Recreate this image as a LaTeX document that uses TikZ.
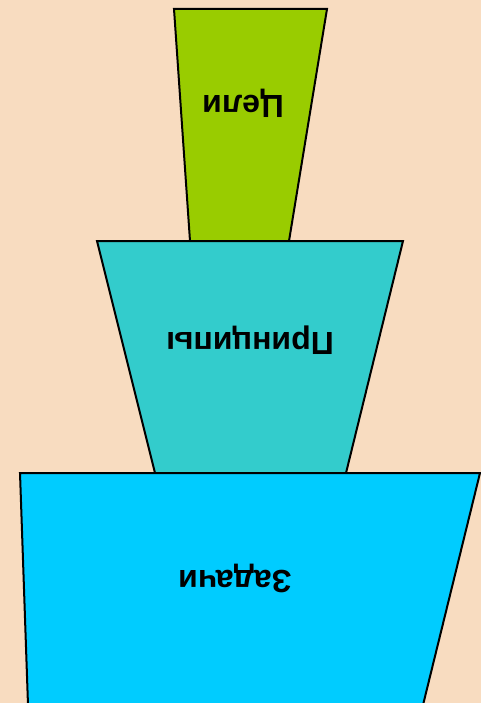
\documentclass[tikz,border=0pt]{standalone}
\usepackage{fontspec}
\setmainfont{Liberation Sans}
\definecolor{bgpeach}{RGB}{248,220,192}
\definecolor{topgreen}{RGB}{153,204,0}
\definecolor{midteal}{RGB}{51,204,204}
\definecolor{botblue}{RGB}{0,204,255}
\begin{document}
\begin{tikzpicture}[x=1pt,y=-1pt,
  trap/.style={draw=black,line width=2pt,line join=miter},
  lbl/.style={font=\fontsize{32}{34}\selectfont\bfseries,rotate=180,inner sep=0pt}]
\fill[bgpeach] (0,0) rectangle (481,703);
\useasboundingbox (0,0) rectangle (481,703);
\filldraw[trap,fill=topgreen] (174,9) -- (327,9) -- (289,241) -- (190,241) -- cycle;
\filldraw[trap,fill=midteal] (97,241) -- (403,241) -- (346,473) -- (155,473) -- cycle;
\filldraw[trap,fill=botblue] (20,473) -- (480,473) -- (423,705) -- (28,705) -- cycle;
\node[lbl] (goals) at (243,103) {Цели};
\node[lbl] (principles) at (250,340) {Принципы};
\node[lbl] (tasks) at (235,578) {Задачи};
\end{tikzpicture}
\end{document}
